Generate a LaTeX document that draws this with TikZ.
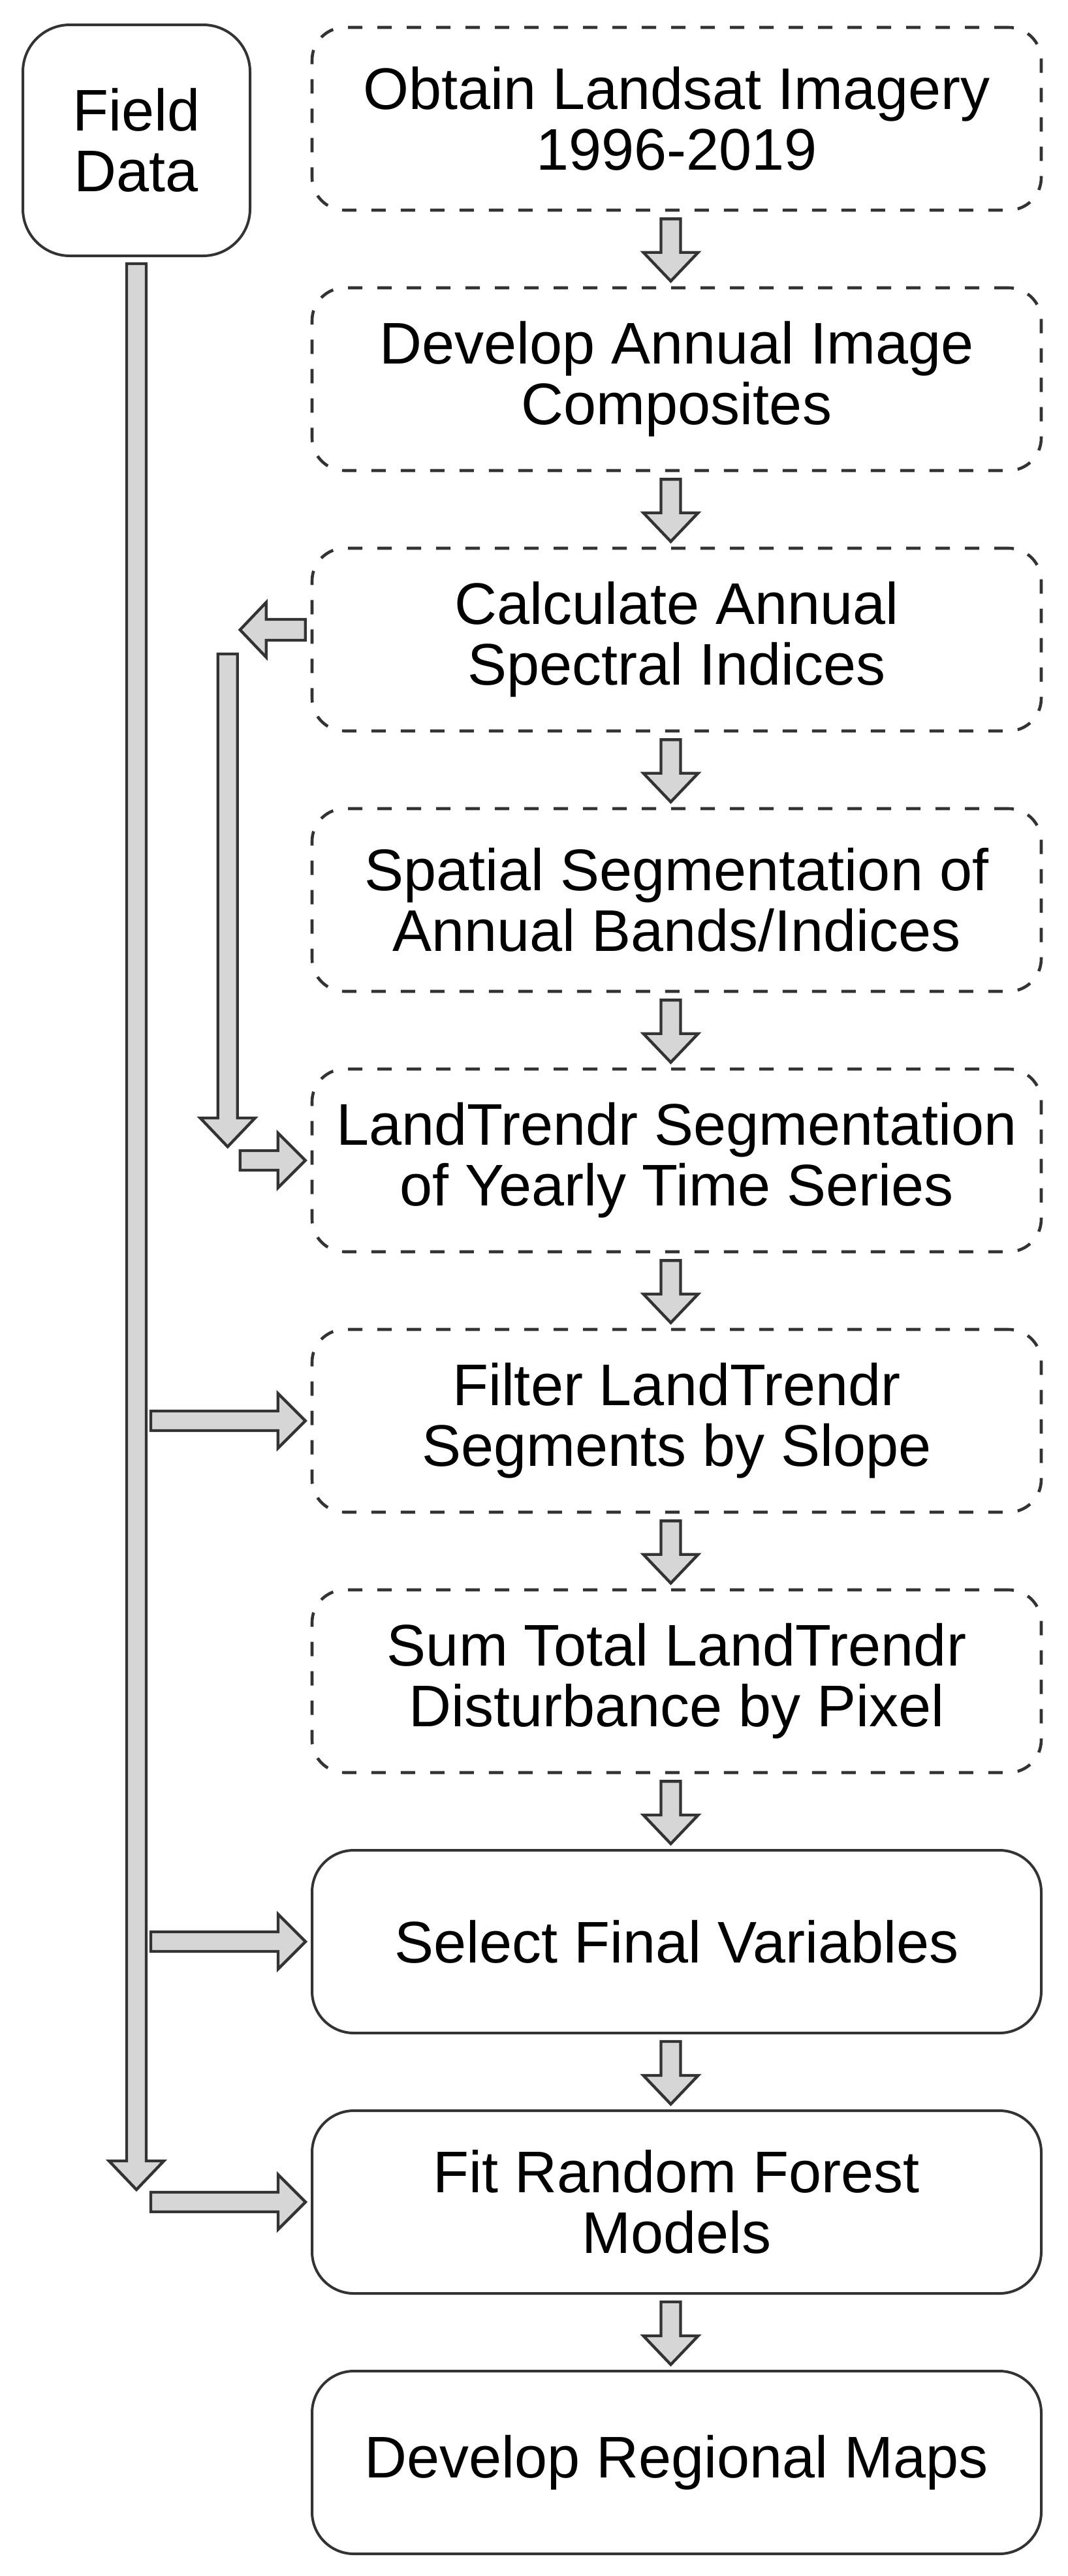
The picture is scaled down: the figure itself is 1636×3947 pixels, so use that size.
\documentclass[tikz,border=0pt]{standalone}
\usepackage{fontspec}
\setmainfont{Liberation Sans}
\usetikzlibrary{calc}
\definecolor{edge}{HTML}{333333}
\definecolor{arrfill}{HTML}{D6D6D6}
% fat block arrows between two points (canvas units via let)
\newcommand\fatD[2]{\draw[fatarr] let \p1=(#1), \p2=(#2) in
  (\x1-7.5pt,\y1) -- (\x1+7.5pt,\y1) -- (\x1+7.5pt,\y2+22pt) -- (\x1+21pt,\y2+22pt)
  -- (\x1,\y2) -- (\x1-21pt,\y2+22pt) -- (\x1-7.5pt,\y2+22pt) -- cycle;}
\newcommand\fatR[2]{\draw[fatarr] let \p1=(#1), \p2=(#2) in
  (\x1,\y1-7.5pt) -- (\x2-21pt,\y1-7.5pt) -- (\x2-21pt,\y1-21pt) -- (\x2,\y1)
  -- (\x2-21pt,\y1+21pt) -- (\x2-21pt,\y1+7.5pt) -- (\x1,\y1+7.5pt) -- cycle;}
\newcommand\fatL[2]{\draw[fatarr] let \p1=(#1), \p2=(#2) in
  (\x1,\y1-8pt) -- (\x2+20pt,\y1-8pt) -- (\x2+20pt,\y1-21pt) -- (\x2,\y1)
  -- (\x2+20pt,\y1+21pt) -- (\x2+20pt,\y1+8pt) -- (\x1,\y1+8pt) -- cycle;}
\begin{document}
\begin{tikzpicture}[x=0.5pt,y=-0.5pt,
  lbl/.style={font=\fontsize{45}{46.5}\selectfont, align=center, text=black, inner sep=0pt},
  dbox/.style={lbl, draw=edge, line width=2.3pt, dash pattern=on 11pt off 11.5pt,
    rounded corners=25pt, minimum width=558.5pt, minimum height=140pt},
  sbox/.style={lbl, draw=edge, line width=2pt, rounded corners=32pt,
    minimum width=558.5pt, minimum height=140pt},
  fatarr/.style={draw=edge, fill=arrfill, line width=2.2pt, line join=miter},
]
\useasboundingbox (0,0) rectangle (1636,3947);

\node[sbox, minimum width=174pt, minimum height=177pt, rounded corners=36pt] (fd) at (209,215) {Field\\Data};

\node[dbox] (b1) at (1036.5,182)  {Obtain Landsat Imagery\\1996-2019};
\node[dbox] (b2) at (1036.5,581)  {Develop Annual Image\\Composites};
\node[dbox] (b3) at (1036.5,980)  {Calculate Annual\\Spectral Indices};
\node[dbox] (b4) at (1036.5,1379) {Spatial Segmentation of\\Annual Bands/Indices};
\node[dbox] (b5) at (1036.5,1778) {LandTrendr Segmentation\\of Yearly Time Series};
\node[dbox] (b6) at (1036.5,2177) {Filter LandTrendr\\Segments by Slope};
\node[dbox] (b7) at (1036.5,2576) {Sum Total LandTrendr\\Disturbance by Pixel};
\node[sbox] (b8) at (1036.5,2975) {Select Final Variables};
\node[sbox] (b9) at (1036.5,3374) {Fit Random Forest\\Models};
\node[sbox] (b10) at (1036.5,3773) {Develop Regional Maps};

% main chain arrows
\foreach \a/\b in {b1/b2,b2/b3,b3/b4,b4/b5,b5/b6,b6/b7,b7/b8,b8/b9,b9/b10}{
  \fatD{$(\a.south)+(-4.5pt,-5.5pt)$}{$(\b.north)+(-4.5pt,4pt)$}
}

% field data trunk
\coordinate (fdend) at (209,3355);
\fatD{$(fd.south)+(0,-5pt)$}{fdend}
\fatR{$(b6.west -| fd.south)+(11pt,0)$}{$(b6.west)+(-4pt,0)$}
\fatR{$(b8.west -| fd.south)+(11pt,0)$}{$(b8.west)+(-4pt,0)$}
\fatR{$(b9.west -| fd.south)+(11pt,0)$}{$(b9.west)+(-4pt,0)$}

% spectral indices branch
\fatL{$(b3.west)+(-4pt,7.5pt)$}{$(b3.west)+(-54pt,7.5pt)$}
\fatD{$(b3.west)+(-63.5pt,-11pt)$}{$(b5.west)+(-63.5pt,10.5pt)$}
\fatR{$(b5.west)+(-54pt,0)$}{$(b5.west)+(-4pt,0)$}
\end{tikzpicture}
\end{document}
